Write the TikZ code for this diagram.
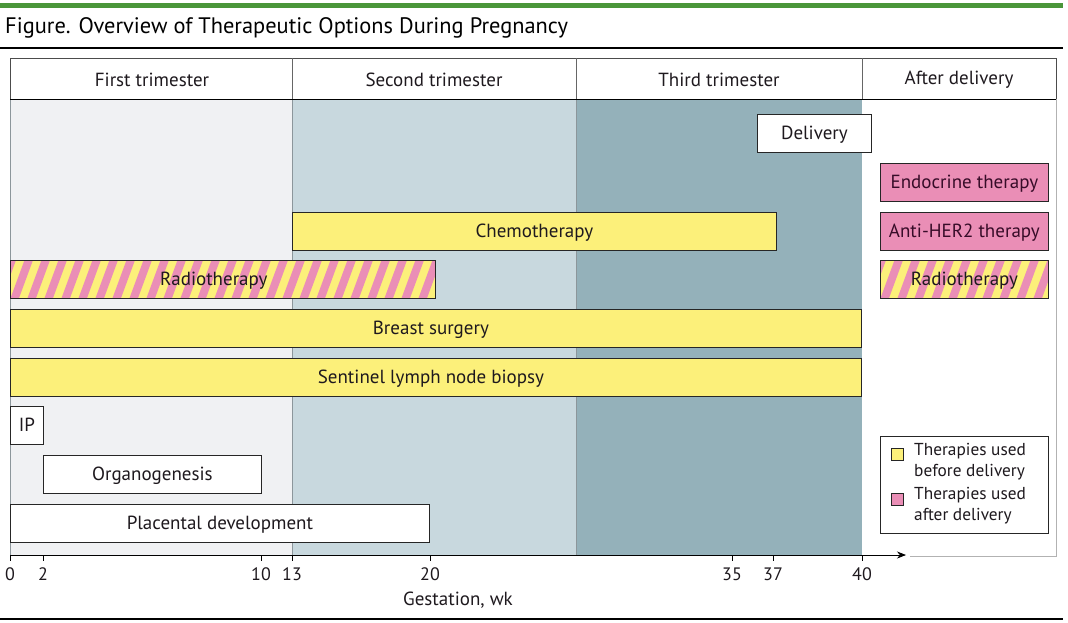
\documentclass[tikz,border=0pt]{standalone}
\usepackage{fontspec}
\setmainfont{PT Sans}
\usetikzlibrary{arrows.meta}
\definecolor{yel}{RGB}{252,240,122}
\definecolor{pnk}{RGB}{234,142,182}
\definecolor{ggreen}{RGB}{74,150,58}
\definecolor{tri1}{RGB}{240,241,243}
\definecolor{tri2}{RGB}{200,216,222}
\definecolor{tri3}{RGB}{148,177,186}
\definecolor{sepg}{RGB}{140,150,155}
\definecolor{txt}{RGB}{30,25,30}
\definecolor{ptxt}{RGB}{55,12,40}
\tikzset{
  bar/.style={draw=black!85, line width=0.8pt, minimum height=38pt, inner sep=0pt,
    text height=16pt, text depth=4pt,
    anchor=north west, font=\fontsize{19}{22}\selectfont, text=txt},
  ybar/.style={bar, fill=yel},
  pbar/.style={bar, fill=pnk, text=ptxt},
  wbar/.style={bar, fill=white},
  sbar/.style={bar, path picture={
      \fill[yel] (path picture bounding box.south west) rectangle (path picture bounding box.north east);
      \foreach \i in {-3,...,30} {
        \fill[pnk] ([xshift=\i*17pt]path picture bounding box.south west) -- ++(8.5pt,0) -- ++(14pt,38pt) -- ++(-8.5pt,0) -- cycle;
      }}},
  hdr/.style={font=\fontsize{19}{22}\selectfont, text=txt},
  tick/.style={font=\fontsize{18}{21}\selectfont, text=txt, anchor=north},
  legtxt/.style={font=\fontsize{17.3}{21}\selectfont, text=txt, align=left, anchor=north west, inner sep=0pt}
}
\begin{document}
\begin{tikzpicture}[x=1pt,y=-1pt]
\useasboundingbox (0,0) rectangle (1068,622);
% top rules
\fill[ggreen] (0,3) rectangle (1063,8);
\node[anchor=west, inner sep=0pt, font=\fontsize{22.4}{26}\selectfont, text=black] (title) at (5,28) {Figure. Overview of Therapeutic Options During Pregnancy};
\draw[line width=2pt] (0,48) -- (1063,48);
\draw[line width=2.5pt] (0,619) -- (1063,619);
% shaded trimesters
\fill[tri1] (10,99) rectangle (292,555);
\fill[tri2] (292,99) rectangle (576,555);
\fill[tri3] (576,99) rectangle (862,555);
\draw[sepg, line width=1pt] (292,99) -- (292,555);
\draw[sepg, line width=1pt] (576,99) -- (576,555);
\draw[sepg, line width=1pt] (10,99) -- (10,555);
% header
\draw[black!70, line width=0.8pt] (10,58) rectangle (1056,99);
\draw[black, line width=1pt] (10,99) -- (1056,99);
\draw[black!60, line width=0.8pt] (292,58) -- (292,99) (576,58) -- (576,99) (862,58) -- (862,99);
\draw[black!30, line width=1pt] (1056,99) -- (1056,556) -- (910,556);
\node[hdr] (h1) at (152,80) {First trimester};
\node[hdr] (h2) at (434,80) {Second trimester};
\node[hdr] (h3) at (719,80) {Third trimester};
\node[hdr] (h4) at (959,80) {After delivery};
% bars
\node[wbar, minimum width=114pt] (deliv) at (757,114) {Delivery};
\node[pbar, minimum width=168pt] (endo) at (880,163) {Endocrine therapy};
\node[ybar, minimum width=484pt] (chemo) at (292,212) {Chemotherapy};
\node[pbar, minimum width=168pt] (her2) at (880,212) {Anti-HER2 therapy};
\node[sbar, minimum width=425pt] (radio1) at (10,260) {\hspace*{-18pt}Radiotherapy};
\node[sbar, minimum width=168pt] (radio2) at (880,260) {Radiotherapy};
\node[ybar, minimum width=851pt] (surg) at (10,309) {\hspace*{-10pt}Breast surgery};
\node[ybar, minimum width=851pt] (slnb) at (10,358) {\hspace*{-10pt}Sentinel lymph node biopsy};
\node[wbar, minimum width=33pt] (ip) at (10,406) {IP};
\node[wbar, minimum width=218pt] (organ) at (43,455) {Organogenesis};
\node[wbar, minimum width=419pt] (plac) at (10,504) {Placental development};
% legend
\node[draw=black!85, line width=0.8pt, fill=white, minimum width=168pt, minimum height=97pt, anchor=north west, inner sep=0pt] (leg) at (880,436) {};
\node[draw=black!85, line width=0.8pt, fill=yel, minimum size=12pt, inner sep=0pt] (ly) at (897,454) {};
\node[draw=black!85, line width=0.8pt, fill=pnk, minimum size=12pt, inner sep=0pt] (lp) at (897,499) {};
\node[legtxt] (lyt) at (914,443) {Therapies used\\before delivery};
\node[legtxt] (lpt) at (914,487) {Therapies used\\after delivery};
% axis
\coordinate (ax0) at (10,555);
\coordinate (axe) at (906,555);
\draw[black, line width=0.8pt, -{Stealth[length=9pt,width=7pt]}] (ax0) -- (axe);
\foreach \xx/\lab in {10/0,43/2,261/10,292/13,430/20,732/35,773/37,862/40} {
  \draw[black, line width=0.8pt] (\xx,555) -- (\xx,561);
  \node[tick] at (\xx,564) {\lab};
}
\node[hdr] (xlabel) at (458,600) {Gestation, wk};
\end{tikzpicture}
\end{document}
